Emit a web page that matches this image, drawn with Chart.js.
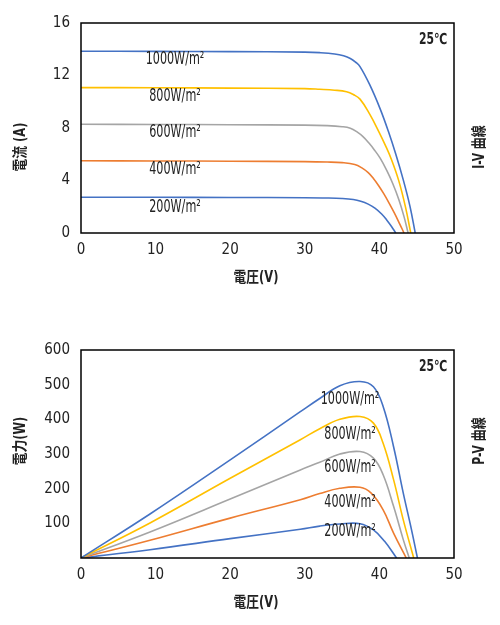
<!DOCTYPE html>
<html>
<head>
<meta charset="utf-8">
<script src="https://cdn.jsdelivr.net/npm/chart.js@4.4.1/dist/chart.umd.min.js"></script>
<style>
  html, body { margin: 0; padding: 0; background: #fff; }
  .box { position: absolute; left: 0; width: 500px; height: 300px; }
</style>
</head>
<body>
<div class="box" style="top:0"><canvas id="ivChart" width="500" height="300"></canvas></div>
<div class="box" style="top:325px"><canvas id="pvChart" width="500" height="300"></canvas></div>
<script>
// 日射強度ごとの系列名と色
const irradiance = ['1000W/m²', '800W/m²', '600W/m²', '400W/m²', '200W/m²'];
const seriesColors = ['#4472C4', '#FFC000', '#A5A5A5', '#ED7D31', '#4472C4'];

// I-V 曲線 (電圧 V, 電流 A)
const ivVolt1000 = [0, 10, 20, 30, 32, 34, 35.2, 36.1, 36.8, 37.4, 38.7, 40.1, 41.2, 42.2, 43.2, 44.1, 44.8];
const ivAmp1000  = [13.85, 13.84, 13.82, 13.78, 13.74, 13.64, 13.5, 13.3, 13.02, 12.68, 11.3, 9.46, 7.75, 6.0, 4.05, 2.03, 0];
const ivVolt800  = [0, 10, 20, 30, 32, 34, 35.6, 36.5, 37.4, 38.7, 39.9, 40.8, 41.6, 42.6, 43.5, 44.2];
const ivAmp800   = [11.08, 11.07, 11.04, 11.0, 10.95, 10.88, 10.76, 10.55, 10.2, 9.05, 7.75, 6.68, 5.62, 3.97, 1.97, 0];
const ivVolt600  = [0, 10, 20, 30, 33, 35, 36.1, 37, 37.8, 38.6, 39.3, 40.1, 41.0, 41.8, 42.6, 43.3, 43.85];
const ivAmp600   = [8.28, 8.27, 8.25, 8.22, 8.18, 8.1, 7.98, 7.7, 7.34, 6.85, 6.35, 5.7, 4.75, 3.75, 2.55, 1.25, 0];
const ivVolt400  = [0, 10, 20, 30, 33, 35, 36.7, 37.6, 38.5, 39.2, 39.9, 40.6, 41.3, 42.0, 42.7, 43.3];
const ivAmp400   = [5.5, 5.49, 5.47, 5.44, 5.41, 5.36, 5.22, 4.98, 4.6, 4.15, 3.6, 2.98, 2.28, 1.53, 0.72, 0];
const ivVolt200  = [0, 10, 20, 30, 33, 35, 36.5, 37.5, 38.5, 39.4, 40.3, 41.0, 41.6, 42.2];
const ivAmp200   = [2.72, 2.72, 2.71, 2.69, 2.67, 2.63, 2.55, 2.42, 2.2, 1.9, 1.45, 0.98, 0.52, 0];

// P-V 曲線 (電圧 V, 電力 W)
const pvVolt1000 = [0, 9.25, 20, 29.4, 32, 34.7, 37.4, 39.2, 40.5, 41.9, 43.2, 44.3, 45.1];
const pvWatt1000 = [0, 127, 283, 422, 460, 497, 509, 494, 437, 321, 187, 82, 0];
const pvVolt800  = [0, 9.25, 20, 29.4, 32, 34.7, 37.4, 39.2, 40.5, 41.9, 43.2, 44.6];
const pvWatt800  = [0, 101, 230, 341, 373, 400, 408, 389, 331, 226, 110, 0];
const pvVolt600  = [0, 9.25, 20, 29.4, 32, 34.7, 37.4, 39.2, 40.5, 41.9, 43.2, 44.0];
const pvWatt600  = [0, 75, 170, 254, 276, 300, 307, 288, 240, 149, 53, 0];
const pvVolt400  = [0, 9.25, 20, 29.4, 32, 34.7, 37.4, 38.9, 40.5, 41.9, 43.6];
const pvWatt400  = [0, 51, 115, 168, 186, 201, 204, 187, 139, 72, 0];
const pvVolt200  = [0, 9.25, 20, 29.4, 32, 34.7, 37.4, 39.2, 40.7, 42.3];
const pvWatt200  = [0, 24, 56, 83, 92, 98, 99, 81, 48, 0];

// 軸の目盛り
const voltTicks = { min: 0, max: 50, step: 10 };
const ampTicks  = { min: 0, max: 16, step: 4 };
const wattTicks = { min: 0, max: 600, step: 100 };

const FONT = '"Liberation Sans Narrow", "DejaVu Sans Condensed", "Noto Sans CJK JP", sans-serif';
const TEXT = '#222';

function makeSeries(volts, values) {
    return volts.map((v, i) => ({ x: v, y: values[i] }));
}

function makeDatasets(pairs) {
    return pairs.map((p, i) => ({
        label: irradiance[i],
        data: makeSeries(p[0], p[1]),
        borderColor: seriesColors[i],
        borderWidth: 1.6,
        pointRadius: 0,
        fill: false,
        tension: 0.4
    }));
}

// 横に詰めた文字を描く (元図は細長い字体)
function drawText(ctx, text, x, y, font, sx, rot) {
    ctx.save();
    ctx.font = font;
    ctx.fillStyle = TEXT;
    ctx.textAlign = 'center';
    ctx.textBaseline = 'middle';
    ctx.translate(x, y);
    if (rot) ctx.rotate(rot);
    ctx.scale(sx, 1);
    ctx.fillText(text, 0, 0);
    ctx.restore();
}

// 枠線・系列ラベル・軸タイトルを描くプラグイン
const decoPlugin = {
    id: 'deco',
    afterDraw(chart, args, o) {
        const { ctx, chartArea: a, scales: { x, y } } = chart;
        ctx.save();
        ctx.strokeStyle = '#000';
        ctx.lineWidth = 1.5;
        ctx.strokeRect(a.left, a.top, a.right - a.left, a.bottom - a.top);
        ctx.restore();

        irradiance.forEach((t, i) => {
            drawText(ctx, t, x.getPixelForValue(o.labelX), y.getPixelForValue(o.labelY[i]),
                '17px ' + FONT, 0.73);
        });

        drawText(ctx, '25℃', a.right - 21, a.top + 17, 'bold 15px ' + FONT, 0.8);
        drawText(ctx, o.xTitle, 256, a.bottom + 45, 'bold 15px ' + FONT, 0.85);
        drawText(ctx, o.yTitle, 21, o.yTitleY, 'bold 15px ' + FONT, 0.85, -Math.PI / 2);
        drawText(ctx, o.sideTitle, 480, o.yTitleY, 'bold 15px ' + FONT, 0.8, -Math.PI / 2);
    }
};

function buildChart(id, datasets, yTicks, topPad, deco, hideZero) {
    return new Chart(document.getElementById(id), {
        type: 'line',
        data: { datasets: datasets },
        options: {
            responsive: false,
            animation: false,
            layout: { padding: { top: topPad, right: 46, left: 0, bottom: 0 } },
            plugins: { legend: { display: false }, tooltip: { enabled: false }, deco: deco },
            scales: {
                x: {
                    type: 'linear',
                    min: voltTicks.min, max: voltTicks.max,
                    grid: { display: false },
                    border: { display: false },
                    ticks: { stepSize: voltTicks.step, padding: 0, color: TEXT, font: { family: FONT, size: 15 } },
                    afterFit: s => { s.height = 67; }
                },
                y: {
                    min: yTicks.min, max: yTicks.max,
                    grid: { display: false },
                    border: { display: false },
                    ticks: {
                        stepSize: yTicks.step, color: TEXT, font: { family: FONT, size: 15 },
                        callback: v => (hideZero && v === 0) ? '' : v
                    },
                    afterFit: s => { s.width = 81; }
                }
            }
        },
        plugins: [decoPlugin]
    });
}

buildChart('ivChart', makeDatasets([
    [ivVolt1000, ivAmp1000], [ivVolt800, ivAmp800], [ivVolt600, ivAmp600],
    [ivVolt400, ivAmp400], [ivVolt200, ivAmp200]
]), ampTicks, 23, {
    labelX: 12.6, labelY: [13.18, 10.36, 7.62, 4.8, 1.9],
    xTitle: '電圧(V)', yTitle: '電流 (A)', yTitleY: 147, sideTitle: 'I-V 曲線'
}, false);

buildChart('pvChart', makeDatasets([
    [pvVolt1000, pvWatt1000], [pvVolt800, pvWatt800], [pvVolt600, pvWatt600],
    [pvVolt400, pvWatt400], [pvVolt200, pvWatt200]
]), wattTicks, 25, {
    labelX: 36.06, labelY: [456, 355, 260, 159, 76],
    xTitle: '電圧(V)', yTitle: '電力(W)', yTitleY: 116, sideTitle: 'P-V 曲線'
}, true);
</script>
</body>
</html>
